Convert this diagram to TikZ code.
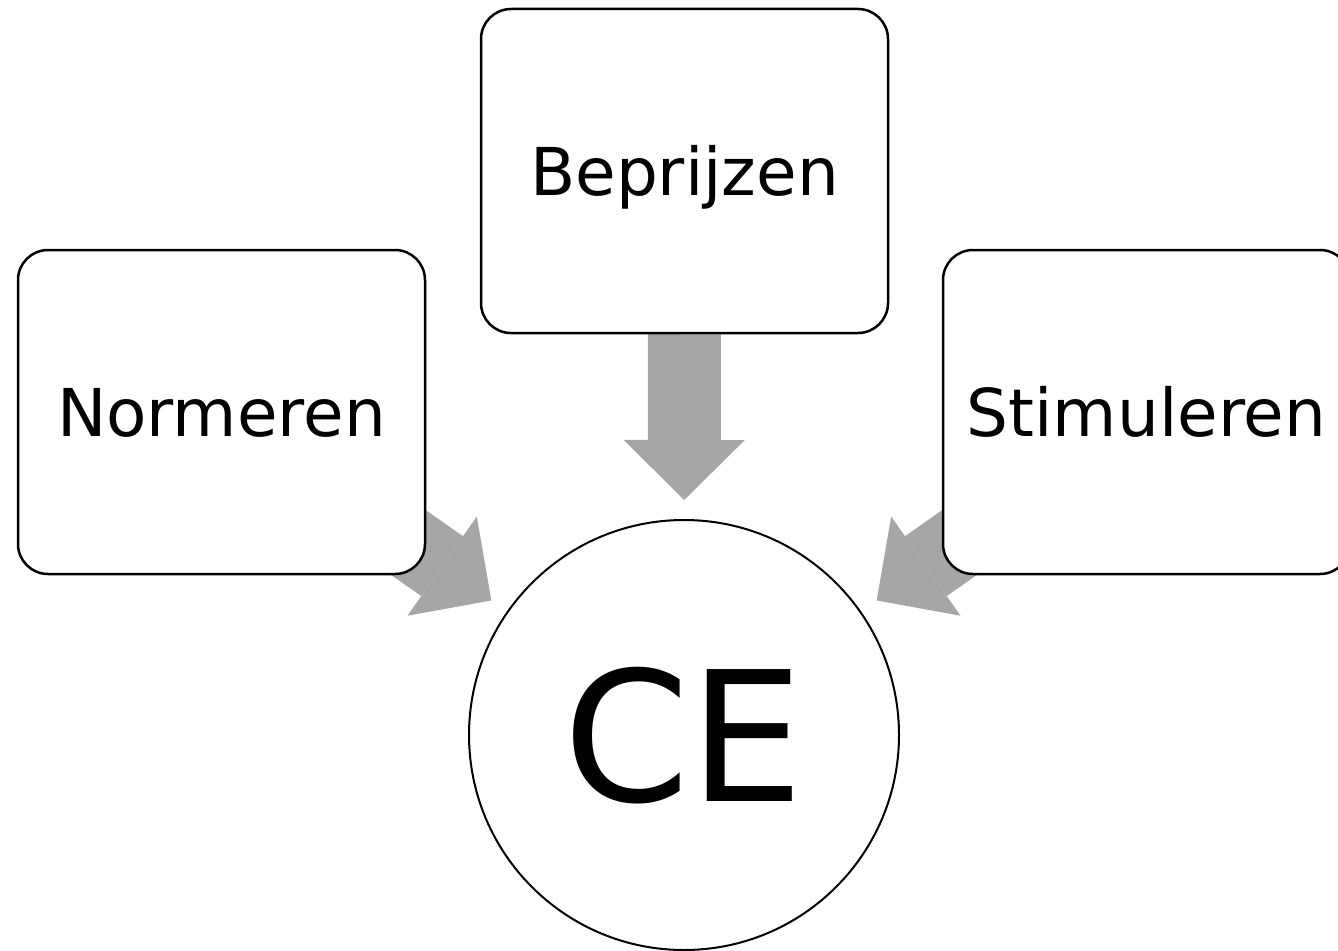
\documentclass[tikz,border=0pt]{standalone}
\usepackage{fontspec}
\setmainfont{DejaVu Sans}
\usetikzlibrary{arrows.meta,backgrounds}
\definecolor{arrowgray}{HTML}{A6A6A6}

\begin{document}
\begin{tikzpicture}[
  x=1pt, y=-1pt,
  box/.style={draw, line width=2.5pt, fill=white, rounded corners=30pt,
    minimum width=407pt, minimum height=324pt, inner sep=0pt,
    font=\fontsize{66}{79}\selectfont, text height=48pt, text depth=0pt},
  ring/.style={draw, line width=2pt, fill=white, circle, minimum size=430pt,
    inner sep=0pt, font=\fontsize{181}{217}\selectfont,
    text height=132pt, text depth=0pt},
  bigarrow/.style={arrowgray, line width=73pt, shorten >=19pt,
    -{Triangle[length=60pt,width=121pt,line width=0pt]}},
]
\useasboundingbox (0,0) rectangle (1338,950);

\node [box] (bep) at (684.5,171) {Beprijzen};
\node [box] (norm) at (221.5,412) {Normeren};
\node [box] (stim) at (1146.5,412) {Stimuleren};
\node [ring] (ce) at (684,735) {CE};

\begin{scope}[on background layer]
\draw [bigarrow] (bep) -- (ce);
\draw [bigarrow] (norm.center) -- (ce);
\draw [bigarrow] (stim.center) -- (ce);
\end{scope}
\end{tikzpicture}
\end{document}
